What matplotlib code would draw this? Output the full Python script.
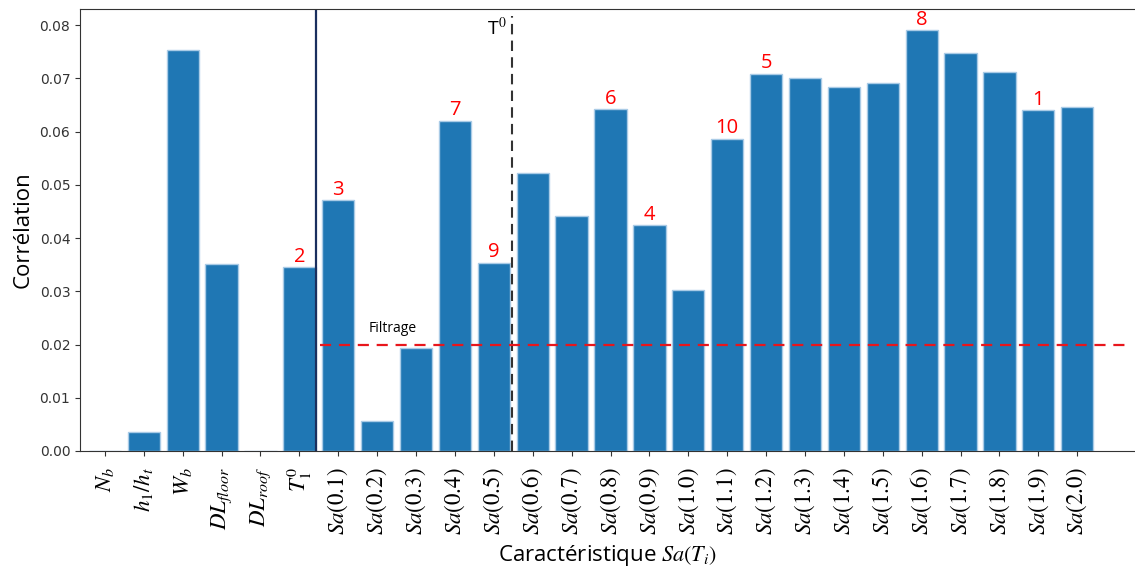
import numpy as np
import matplotlib.pyplot as plt

plt.rcParams['mathtext.fontset'] = 'stix'

labels = [r'$N_b$', r'$h_1/h_t$', r'$W_b$', r'$DL_{floor}$', r'$DL_{roof}$', r'$T_1^0$',
          r'$Sa(0.1)$', r'$Sa(0.2)$', r'$Sa(0.3)$', r'$Sa(0.4)$', r'$Sa(0.5)$',
          r'$Sa(0.6)$', r'$Sa(0.7)$', r'$Sa(0.8)$', r'$Sa(0.9)$', r'$Sa(1.0)$',
          r'$Sa(1.1)$', r'$Sa(1.2)$', r'$Sa(1.3)$', r'$Sa(1.4)$', r'$Sa(1.5)$',
          r'$Sa(1.6)$', r'$Sa(1.7)$', r'$Sa(1.8)$', r'$Sa(1.9)$', r'$Sa(2.0)$']
corr = [0.0, 0.0035, 0.0754, 0.0352, 0.0, 0.0345,
        0.0471, 0.0056, 0.0194, 0.0620, 0.0354,
        0.0523, 0.0441, 0.0642, 0.0424, 0.0303,
        0.0586, 0.0709, 0.0700, 0.0683, 0.0692,
        0.0790, 0.0748, 0.0712, 0.0640, 0.0647]
# rank labels (bar index -> rank)
ranks = {5: '2', 6: '3', 9: '7', 10: '9', 13: '6', 14: '4',
         16: '10', 17: '5', 21: '8', 24: '1'}
seuil = 0.02

x = np.arange(len(labels))

fig = plt.figure(figsize=(11.35, 5.68), dpi=100)
ax = fig.add_axes([0.0705, 0.206, 0.93, 0.778])

ax.bar(x, corr, width=0.83, color='#1f77b4', edgecolor='#a9cbe6', linewidth=1)

for i, r in ranks.items():
    ax.text(x[i], corr[i] + 0.0001, r, color='red', ha='center', va='bottom',
            fontsize=14.5, family='Open Sans')

ax.axvline(5.44, color='#1a2f5e', lw=1.6)
ax.axvline(10.46, ymax=0.985, color='#333333', lw=1.5, ls=(0, (5, 3)))
ax.text(10.08, 0.0795, r'T$^0$', ha='center', va='center', fontsize=14, family='Open Sans')
ax.hlines(seuil, 5.52, 26.3, colors='#e8161c', linestyles=(0, (5, 3.5)), lw=1.6)
ax.text(7.4, 0.0231, 'Filtrage', ha='center', va='center', fontsize=10, family='Open Sans')

ax.set_xlim(-0.64, 26.5)
ax.set_ylim(0, 0.083)
ax.set_yticks(np.arange(0, 0.081, 0.01))
ax.set_yticklabels(['%.2f' % v for v in np.arange(0, 0.081, 0.01)])
ax.set_xticks(x)
ax.set_xticklabels(labels, rotation=90, fontsize=16.5)
ax.tick_params(axis='y', labelsize=10, colors='#333333')
ax.tick_params(axis='x', colors='#333333', labelcolor='black', pad=8)
for s in ax.spines.values():
    s.set_color('#333333')

ax.set_ylabel('Corrélation', fontsize=16, family='Open Sans')
ax.set_xlabel(r'Caractéristique $Sa(T_i)$', fontsize=16, family='Open Sans', labelpad=6)

fig.savefig('out.png', dpi=100)
